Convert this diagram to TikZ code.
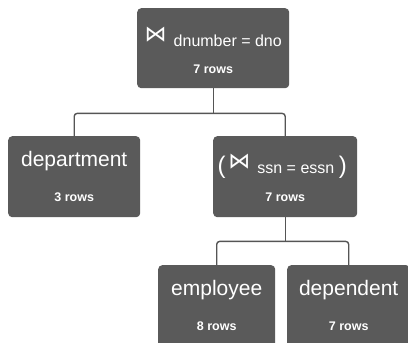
\documentclass[tikz,border=0pt]{standalone}
\usepackage{fontspec}
\setmainfont{Liberation Sans}
\newfontfamily\symfont{DejaVu Sans}
\definecolor{boxgray}{HTML}{5A5A5A}
\definecolor{linkgray}{HTML}{555555}
\newcommand{\joinsym}{{\symfont\fontsize{22}{24}\selectfont\raisebox{5pt}{⋈}}}
\begin{document}
\begin{tikzpicture}[x=1pt,y=-1pt,
  relbox/.style={fill=boxgray, rounded corners=4pt, inner sep=0pt,
                 anchor=north west, minimum height=#1},
  relbox/.default=81pt,
  title/.style={text=white, inner sep=0pt, anchor=base,
                font=\fontsize{21}{24}\selectfont},
  cond/.style={text=white, inner sep=0pt, anchor=base,
               font=\fontsize{16}{18}\selectfont},
  rows/.style={text=white, inner sep=0pt, anchor=base,
               font=\bfseries\fontsize{12.5}{14}\selectfont},
  link/.style={draw=linkgray, line width=1.4pt, rounded corners=3pt}]
\useasboundingbox (0,0) rectangle (408,343);
\clip (0,0) rectangle (408,343);

% operator and relation boxes
\node[relbox, minimum width=152pt, minimum height=80pt] (join1) at (137,8) {};
\node[relbox, minimum width=132pt] (dept) at (8,136) {};
\node[relbox, minimum width=144pt] (join2) at (213,136) {};
\node[relbox, minimum width=117pt, minimum height=90pt] (emp) at (158,265) {};
\node[relbox, minimum width=123pt, minimum height=90pt] (dep) at (287,265) {};

% labels
\node[cond] (t1) at ([yshift=-38pt]join1.north) {\joinsym\, dnumber = dno};
\node[rows] (r1) at ([yshift=-65pt]join1.north) {7 rows};
\node[title] (t2) at ([yshift=-30pt]dept.north) {department};
\node[rows] (r2) at ([yshift=-65pt]dept.north) {3 rows};
\node[cond] (t3) at ([xshift=-3pt,yshift=-37pt]join2.north)
  {{\fontsize{24}{26}\selectfont (}\,\joinsym\, ssn = essn {\fontsize{24}{26}\selectfont )}};
\node[rows] (r3) at ([yshift=-65pt]join2.north) {7 rows};
\node[title] (t4) at ([yshift=-30pt]emp.north) {employee};
\node[rows] (r4) at ([yshift=-65pt]emp.north) {8 rows};
\node[title] (t5) at ([yshift=-30pt]dep.north) {dependent};
\node[rows] (r5) at ([yshift=-65pt]dep.north) {7 rows};

% tree connectors
\draw[link] (join1.south) -- ++(0,25) coordinate (fork1);
\draw[link] (dept.north) |- (fork1) -| (join2.north);
\draw[link] (join2.south) -- ++(0,24) coordinate (fork2);
\draw[link] (emp.north) |- (fork2) -| (dep.north);
\end{tikzpicture}
\end{document}
